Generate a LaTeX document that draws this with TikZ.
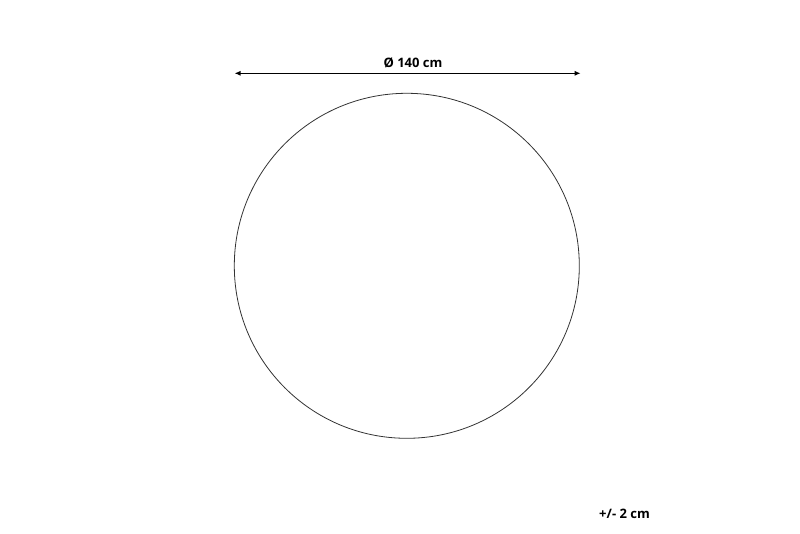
\documentclass[tikz,border=0pt]{standalone}
\usepackage{fontspec}
\setmainfont{Open Sans}
\usetikzlibrary{arrows.meta}
\newcommand{\dimtip}{Latex[length=6pt,width=5pt]}

\begin{document}
\begin{tikzpicture}[x=1pt,y=1pt]
   \useasboundingbox (0,0) rectangle (800,533);
   \draw[line width=0.8pt, black!80] (406.8,267.2) circle (172.5);
   \coordinate (dl) at (234.5,459.7);
   \coordinate (dr) at (580.7,459.7);
   \draw[line width=1.5pt, {\dimtip}-{\dimtip}] (dl) -- (dr);
   \node[anchor=base, font=\fontsize{13}{15}\bfseries] (diam) at (413,465) {Ø 140 cm};
   \node[anchor=base, font=\fontsize{13}{15}\bfseries] (tol) at (624.5,15) {+/- 2 cm};
\end{tikzpicture}
\end{document}
